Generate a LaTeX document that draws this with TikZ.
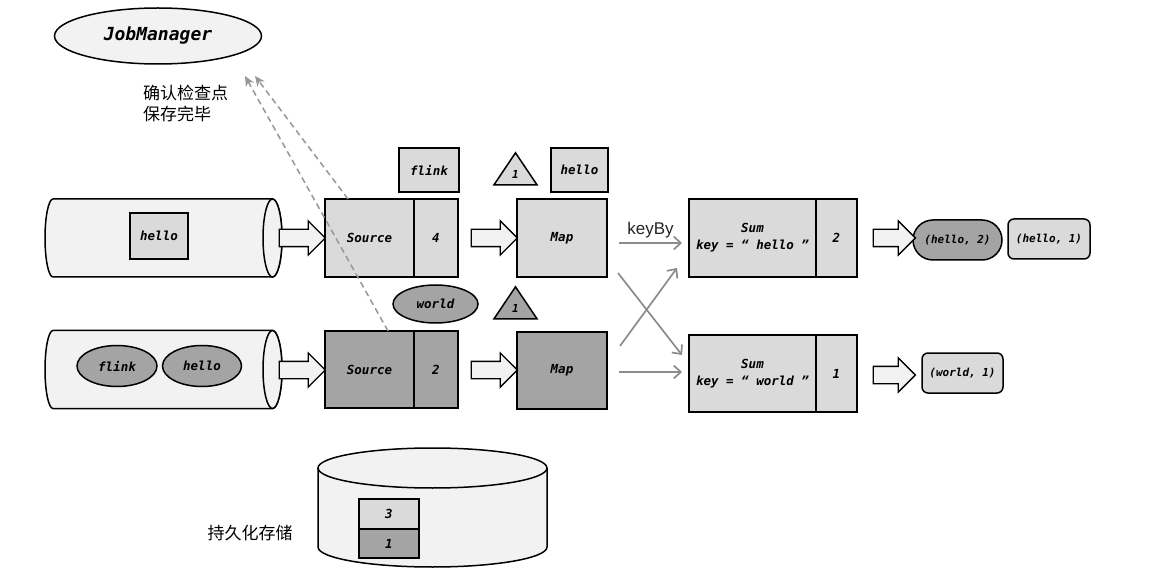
\documentclass[tikz,border=0pt]{standalone}
\usepackage{fontspec}
\setmonofont{DejaVu Sans Mono}
\newfontfamily\cjk{Noto Sans CJK SC}
\newfontfamily\keyfont{Liberation Sans}
\usetikzlibrary{positioning,shapes.geometric,shapes.arrows,shapes.misc,arrows.meta}
\definecolor{lightbox}{HTML}{DADADA}
\definecolor{darkbox}{HTML}{A4A4A4}
\definecolor{paleback}{HTML}{F2F2F2}
\definecolor{linegray}{HTML}{8C8C8C}
\begin{document}
\begin{tikzpicture}[x=1pt,y=-1pt,
    mono/.style={font=\ttfamily\bfseries\itshape\fontsize{#1}{17}\selectfont},
    mono/.default=12.5,
    light box/.style={rectangle,draw,line width=1.5pt,fill=lightbox,inner sep=0pt,outer sep=0pt,mono},
    dark box/.style={light box,fill=darkbox},
    token/.style={ellipse,draw,line width=1.5pt,fill=darkbox,inner sep=0pt,mono},
    marker/.style={isosceles triangle,shape border rotate=90,isosceles triangle stretches,draw,line width=1.5pt,inner sep=0pt,minimum width=43pt,minimum height=32pt,mono=11},
    result/.style={rectangle,rounded corners=6pt,draw,line width=1.5pt,fill=lightbox,inner sep=0pt,minimum height=40pt,mono=11},
    pipe/.style={draw,line width=1.5pt,fill=paleback},
    push/.style={single arrow,draw,line width=1.3pt,fill=paleback,inner sep=8pt,single arrow head extend=8.5pt,minimum height=46pt},
    graylink/.style={linegray,line width=1.7pt,-{Straight Barb[length=7pt,width=13pt]}},
    acklink/.style={linegray!90,line width=1.5pt,dash pattern=on 6pt off 4pt,-{Stealth[length=10pt,width=9pt,inset=3pt]}},
    note/.style={font=\cjk\fontsize{17}{21}\selectfont,inner sep=0pt}]
\fill[white] (0,0) rectangle (1170,585);
\useasboundingbox (0,0) rectangle (1170,585);

\node[ellipse,draw,line width=1.5pt,fill=paleback,minimum width=207pt,minimum height=56pt,mono=18] (jm) at (158,36) {JobManager};
\node[note,align=left,anchor=west] (ack) at (143,103) {确认检查点\\保存完毕};
\coordinate (ack1) at (245,76);
\coordinate (ack2) at (255,76);

\foreach \c in {238,369.5} {
  \draw[pipe] (272.5,\c-39) -- (53,\c-39) arc[start angle=270,end angle=90,x radius=8,y radius=39]
    -- (272.5,\c+39) arc[start angle=90,end angle=-90,x radius=9.5,y radius=39] -- cycle;
  \draw[pipe] (272.5,\c) ellipse[x radius=9.5,y radius=39];
}
\node[light box,minimum width=58pt,minimum height=46pt] (w1) at (159,236) {hello};
\node[token,minimum width=80pt,minimum height=41pt] (w2) at (117,366) {flink};
\node[token,minimum width=79pt,minimum height=41pt] (w3) at (202,366) {hello};

\node[light box,minimum width=89pt,minimum height=78pt] (src1) at (369.5,238) {Source};
\node[light box,minimum width=44pt,minimum height=78pt,right=0pt of src1] (off1) {4};
\node[dark box,minimum width=89pt,minimum height=77pt] (src2) at (369.5,369.5) {Source};
\node[dark box,minimum width=44pt,minimum height=77pt,right=0pt of src2] (off2) {2};

\node[light box,minimum width=60pt,minimum height=44pt] (b1) at (429,170) {flink};
\node[marker,fill=lightbox] (t1) at (515.5,174) {1};
\node[light box,minimum width=57pt,minimum height=44pt] (b2) at (579.5,170) {hello};
\node[token,minimum width=85pt,minimum height=38pt] (w4) at (435.5,304) {world};
\node[marker,fill=darkbox] (t2) at (515.5,308) {1};

\node[light box,minimum width=90pt,minimum height=78pt] (map1) at (562,238) {Map};
\node[dark box,minimum width=90pt,minimum height=77pt] (map2) at (562,370.5) {Map};

\node[light box,minimum width=127pt,minimum height=78pt,align=center] (sum1) at (752.5,238) {Sum\\key = “ hello ”};
\node[light box,minimum width=41pt,minimum height=78pt,right=0pt of sum1] (cnt1) {2};
\node[light box,minimum width=127pt,minimum height=77pt,align=center] (sum2) at (752.5,373.5) {Sum\\key = “ world ”};
\node[light box,minimum width=41pt,minimum height=77pt,right=0pt of sum2] (cnt2) {1};

\node[result,rounded corners=20pt,fill=darkbox,minimum width=89pt] (r1) at (957.5,240) {(hello, 2)};
\node[result,minimum width=82pt] (r2) at (1049,239) {(hello, 1)};
\node[result,minimum width=81pt] (r3) at (962.5,373) {(world, 1)};

\node[push] (p1) at (298,238) {};
\node[push] (p2) at (298,370) {};
\node[push] (p3) at (490,238) {};
\node[push] (p4) at (490,370) {};
\node[push,minimum height=42pt] (p5) at (890,238) {};
\node[push,minimum height=42pt] (p6) at (890,375) {};

\draw[graylink] ([xshift=12pt,yshift=-5pt]map1.east) -- node[above=4pt,inner sep=0pt,font=\keyfont\fontsize{17}{20}\selectfont,black!85] {keyBy} ([xshift=-7pt,yshift=-5pt]sum1.west);
\draw[graylink] ([xshift=12pt,yshift=-1.5pt]map2.east) -- ([xshift=-7pt,yshift=-1.5pt]map2.east -| sum2.west);
\draw[graylink] ([xshift=11pt,yshift=4pt]map1.south east) -- ([xshift=-7pt,yshift=-20pt]sum2.north west);
\draw[graylink] ([xshift=13pt,yshift=-14pt]map2.north east) -- ([xshift=-12pt,yshift=9pt]sum1.south west);

\draw[acklink] ([xshift=63pt]src2.north west) -- (ack1);
\draw[acklink] ([xshift=23pt]src1.north west) -- (ack2);

\draw[pipe] (318,468) -- (318,547) arc[start angle=180,end angle=0,x radius=114.5,y radius=20] -- (547,468);
\draw[pipe] (432.5,468) ellipse[x radius=114.5,y radius=20];
\node[light box,minimum width=60pt,minimum height=30pt] (ck1) at (389,514) {3};
\node[dark box,minimum width=60pt,minimum height=29pt,below=0pt of ck1] (ck2) {1};
\node[note] (keep) at (250,533) {持久化存储};
\end{tikzpicture}
\end{document}
